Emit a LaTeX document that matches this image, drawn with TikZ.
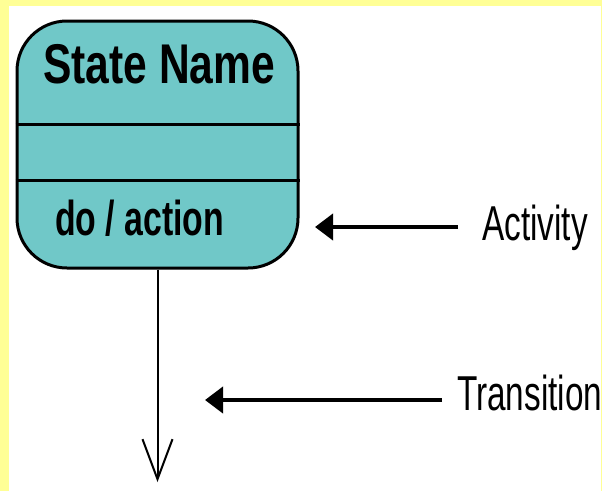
\documentclass[tikz,border=0pt]{standalone}
\usepackage{fontspec}
\setmainfont{Liberation Sans}
\usetikzlibrary{arrows.meta}
\definecolor{bgyellow}{RGB}{255,255,150}
\definecolor{statefill}{RGB}{112,200,200}
\tikzset{
  statebox/.style={draw=black, line width=3pt, fill=statefill, rounded corners=50pt,
    minimum width=281pt, minimum height=247pt, inner sep=0pt},
  divider/.style={line width=3pt},
  lbl/.style={inner sep=0pt, anchor=base west, font=\fontsize{49}{49}\selectfont},
  boldlbl/.style={inner sep=0pt, anchor=base west},
  pointer/.style={line width=4pt, -{Triangle[length=18pt,width=26pt]}},
  transline/.style={line width=2pt, -{Straight Barb[length=40pt,width=30pt,line width=2pt]}}
}
\begin{document}
\begin{tikzpicture}[x=1pt,y=-1pt]
\useasboundingbox (0,0) rectangle (602,491);
\fill[bgyellow] (0,0) rectangle (602,491);
\fill[white] (9,6) rectangle (601,491);
\node[statebox] (state) at (157.5,144.5) {};
\draw[divider] (state.west |- 0,124) -- (state.east |- 0,124);
\draw[divider] (state.west |- 0,180) -- (state.east |- 0,180);
\node[boldlbl, font=\fontsize{56}{56}\selectfont\bfseries] (sname) at (43,83) {\scalebox{0.76}[1]{State Name}};
\node[boldlbl, font=\fontsize{49}{49}\selectfont\bfseries] (doact) at (55,235) {\scalebox{0.69}[1]{do / action}};
\node[lbl] (act) at (482,240) {\scalebox{0.68}[1]{Activity}};
\node[lbl] (trans) at (457,410) {\scalebox{0.68}[1]{Transition}};
\coordinate (acttail) at (458,227);
\coordinate (acttip) at (315,227);
\coordinate (trtail) at (442,400);
\coordinate (trtip) at (205,400);
\coordinate (trend) at (157.5,482);
\draw[pointer] (acttail) -- (acttip);
\draw[pointer] (trtail) -- (trtip);
\draw[transline] (state.south) -- (trend);
\end{tikzpicture}
\end{document}
